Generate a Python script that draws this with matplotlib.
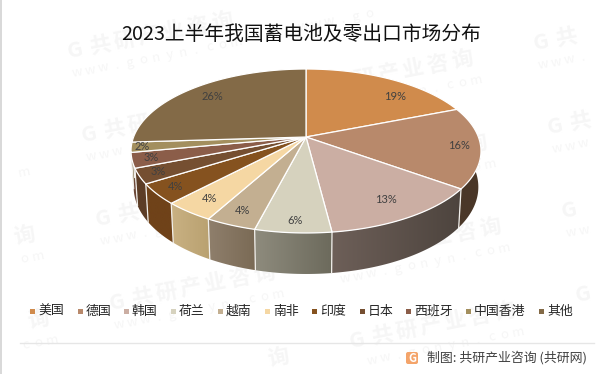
import numpy as np
import matplotlib
matplotlib.use("Agg")
import matplotlib.pyplot as plt
from matplotlib.patches import Polygon, Rectangle, FancyBboxPatch

plt.rcParams["font.family"] = ["Noto Sans CJK SC", "DejaVu Sans"]

categories = ["美国", "德国", "韩国", "荷兰", "越南", "南非", "印度", "日本", "西班牙", "中国香港", "其他"]
shares = [19, 16, 13, 6, 4, 4, 4, 3, 3, 2, 26]

top_colors = ["#D08B4C", "#B8896B", "#CBAEA3", "#D6D2BE", "#C3AF91", "#F5D7A3",
              "#85521F", "#754F31", "#8B5D49", "#A38F5E", "#836A47"]
side_screen_left = ["#5a4636", "#4a3728", "#6d5f58", "#8e8b7d", "#8f7f6c", "#c9b183",
                    "#6f4219", "#5c3d26", "#6b4737", "#7d6e48", "#655237"]
side_screen_right = ["#5a4636", "#4a3728", "#4d443e", "#6c6a5c", "#7a6a55", "#b9a170",
                     "#6f4219", "#5c3d26", "#6b4737", "#7d6e48", "#655237"]
label_r = [0.80, 0.88, 0.80, 0.887, 0.86, 0.843, 0.886, 0.896, 0.893, 0.94, 0.82]
label_shift = [11, 0, 0, 0, 0, 0, 0, 0, 0, 0, 0]
legend_x = [38, 86, 132, 179, 226, 273, 320, 368, 414, 474, 547]

CX, CY = 306, 137
K, A, B = 0.1707, 79.6, 172.4


def top_point(theta, r=1.0):
    # theta in degrees, clockwise from 12 o'clock, with a bit of perspective
    u = r * np.sin(np.radians(theta))
    v = r * np.cos(np.radians(theta))
    return CX + B * u / (1 + K * v), CY - A * v / (1 + K * v)


def low_point(theta):
    x, y = top_point(theta)
    v = np.cos(np.radians(theta))
    return CX + (x - CX) * 0.985, y + 35 - 6 * v


def spaced_text(ax, text, x, y, step, angle, **kw):
    # watermark letters one by one, skipping those that fall off the canvas
    dx, dy = np.cos(np.radians(angle)), -np.sin(np.radians(angle))
    for n, ch in enumerate(text):
        px, py = x + n * step * dx, y + n * step * dy
        if 14 < px < 585 and 14 < py < 362:
            ax.text(px, py, ch, rotation=angle, ha="center", va="center", zorder=0, **kw)


fig = plt.figure(figsize=(5.99, 3.74), dpi=100)
ax = fig.add_axes([0, 0, 1, 1])

# watermark
for k in range(-1, 4):
    for m in range(-1, 5):
        x0 = 75 + 226 * k + 14 * m
        y0 = 50 - 46 * k + 84 * m
        spaced_text(ax, "G共研产业咨询", x0, y0, 25, 11, fontsize=15.5, fontweight="bold", color="#f6f6f6")
        spaced_text(ax, "www.gonyn.com", x0 + 2, y0 + 23, 13.5, 11, fontsize=9.5, color="#f6f6f6")

ax.add_patch(Rectangle((0, 0), 1.5, 374, color="#d9d9d9", lw=0))

ax.text(301, 34, "2023上半年我国蓄电池及零出口市场分布", fontsize=14.2,
        color="#111111", ha="center", va="center")

edges = np.cumsum([0] + shares) / sum(shares) * 360

# sides first, only the part facing the viewer
for i in range(len(shares)):
    a0, a1 = max(edges[i], 88), min(edges[i + 1], 272)
    if a1 <= a0:
        continue
    th = np.linspace(a0, a1, 60)
    outline = [top_point(t) for t in th] + [low_point(t) for t in th[::-1]]
    clip = Polygon(outline, closed=True, transform=ax.transData, facecolor="none", edgecolor="none")
    ax.add_patch(clip)
    xs = [p[0] for p in outline]
    ys = [p[1] for p in outline]
    c0 = np.array(matplotlib.colors.to_rgb(side_screen_left[i]))
    c1 = np.array(matplotlib.colors.to_rgb(side_screen_right[i]))
    grad = np.linspace(c0, c1, 64)[None, :, :]
    im = ax.imshow(grad, extent=(min(xs), max(xs), max(ys), min(ys)), aspect="auto",
                   interpolation="bilinear", zorder=2)
    im.set_clip_path(clip)
    if edges[i] >= 88:
        ax.plot(*zip(top_point(a0), low_point(a0)), color="#f2f0ec", lw=0.9, zorder=3)

ax.set_xlim(0, 599)
ax.set_ylim(374, 0)
ax.axis("off")

# top face
for i in range(len(shares)):
    th = np.linspace(edges[i], edges[i + 1], 80)
    pts = [(CX, CY)] + [top_point(t) for t in th]
    ax.add_patch(Polygon(pts, closed=True, facecolor=top_colors[i], edgecolor="white",
                         lw=0.9, joinstyle="round", zorder=4))

# percent labels
for i, share in enumerate(shares):
    mid = (edges[i] + edges[i + 1]) / 2 + label_shift[i]
    x, y = top_point(mid, label_r[i])
    ax.text(x, y, f"{share}%", fontsize=8, color="#404040", ha="center", va="center", zorder=5,
            family=["Lato", "DejaVu Sans"])

# legend
for name, x, c in zip(categories, legend_x, top_colors):
    ax.add_patch(Rectangle((x - 8, 311 - 2.5), 5, 5, color=c, lw=0, zorder=5))
    ax.text(x, 311.5, name, fontsize=9.3, color="#262626", ha="left", va="center", zorder=5)

ax.plot([20, 594], [343, 343], color="#e6e6e6", lw=1, zorder=5)

# footer
ax.add_patch(FancyBboxPatch((406, 352), 12, 12, boxstyle="round,pad=0,rounding_size=2",
                            facecolor="#F4A46A", edgecolor="none", zorder=5))
ax.text(412, 358, "G", fontsize=8, fontweight="bold", color="white", ha="center", va="center", zorder=6)
ax.text(427, 358, "制图: 共研产业咨询 (共研网)", fontsize=9.3, color="#404040", ha="left", va="center", zorder=5)

fig.savefig("out.png", dpi=100)
